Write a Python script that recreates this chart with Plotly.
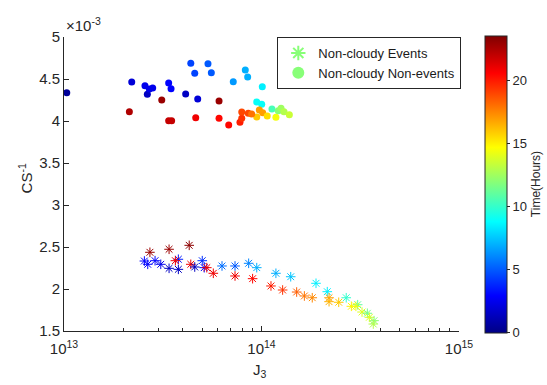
import plotly.graph_objects as go

# Non-cloudy Non-events (circles): log10(J3), CS^-1 (x1e-3), hour
nonevent_logJ = [13.014, 13.343, 13.410, 13.422, 13.432, 13.449, 13.530, 13.542, 13.495, 13.331,
                 13.530, 13.545, 13.616, 13.642, 13.729, 13.662, 13.746, 13.677, 13.667, 13.785,
                 13.785, 13.834, 13.891, 13.900, 13.857, 13.918, 13.930, 14.004, 13.900, 13.933,
                 13.976, 14.001, 13.989, 13.976, 14.006, 14.029, 14.053, 14.073, 14.085, 14.099,
                 14.114, 14.141, 13.950]
nonevent_cs = [4.337, 4.464, 4.420, 4.318, 4.381, 4.393, 4.452, 4.385, 4.250, 4.111,
               4.004, 4.004, 4.321, 4.687, 4.682, 4.568, 4.575, 4.262, 4.039, 4.238,
               4.032, 3.952, 3.985, 4.032, 4.468, 4.607, 4.524, 4.408, 4.107, 4.092,
               4.226, 4.199, 4.131, 4.048, 4.099, 4.060, 4.143, 4.044, 4.123, 4.151,
               4.111, 4.075, 4.083]
nonevent_hour = [0.5, 2.0, 2.5, 1.5, 2.5, 2.5, 3.0, 3.0, 23.0, 22.5,
                 22.0, 22.0, 1.5, 4.5, 5.0, 4.5, 5.0, 2.0, 21.0, 23.0,
                 20.5, 20.5, 20.0, 19.5, 6.5, 7.0, 7.0, 8.5, 19.0, 19.0,
                 9.0, 9.0, 17.0, 16.0, 17.0, 15.5, 10.5, 14.5, 12.0, 12.5,
                 13.0, 13.5, 18.0]

# Non-cloudy Events (asterisks)
event_logJ = [13.435, 13.532, 13.634, 13.407, 13.424, 13.461, 13.490, 13.532, 13.579, 13.579,
              13.564, 13.642, 13.662, 13.700, 13.710, 13.723, 13.756, 13.800, 13.866, 13.866,
              13.935, 13.976, 13.955, 14.073, 14.048, 14.107, 14.148, 14.178, 14.217, 14.257,
              14.276, 14.333, 14.342, 14.342, 14.391, 14.429, 14.455, 14.487, 14.478, 14.509,
              14.536, 14.546, 14.570, 14.566]
event_cs = [2.437, 2.473, 2.520, 2.333, 2.294, 2.337, 2.294, 2.246, 2.234, 2.354,
            2.337, 2.294, 2.262, 2.337, 2.254, 2.254, 2.187, 2.274, 2.274, 2.155,
            2.306, 2.254, 2.123, 2.187, 2.036, 1.988, 2.146, 1.964, 1.917, 1.896,
            2.068, 1.968, 1.896, 1.849, 1.842, 1.896, 1.794, 1.813, 1.794, 1.726,
            1.711, 1.663, 1.623, 1.583]
event_hour = [23.0, 23.0, 23.3, 3.0, 3.0, 3.0, 2.5, 1.5, 1.5, 3.5,
              21.0, 21.0, 1.5, 4.0, 3.0, 21.0, 21.0, 5.5, 5.0, 21.0,
              6.0, 7.0, 20.5, 7.0, 20.0, 19.5, 7.5, 18.5, 18.0, 17.5,
              8.5, 8.5, 17.0, 16.5, 16.0, 10.0, 15.0, 11.0, 14.5, 14.0,
              11.5, 14.0, 12.0, 13.0]

x_tick_vals = [1e13, 1e14, 1e15]
x_tick_text = ["10<sup>13</sup>", "10<sup>14</sup>", "10<sup>15</sup>"]
cbar_ticks = [0, 5, 10, 15, 20]
hour_min, hour_max = 0, 23.6

jet = [[0.0, "rgb(0,0,132)"], [0.125, "rgb(0,0,255)"], [0.375, "rgb(0,255,255)"],
       [0.625, "rgb(255,255,0)"], [0.875, "rgb(255,0,0)"], [1.0, "rgb(128,0,0)"]]

axis_col = "#262626"
font_fam = "Liberation Sans, Arial, sans-serif"

fig = go.Figure()

fig.add_trace(go.Scatter(
    x=[10 ** v for v in event_logJ], y=event_cs, mode="markers", showlegend=False,
    marker=dict(symbol="asterisk-open", size=8, color=event_hour, colorscale=jet,
                cmin=hour_min, cmax=hour_max, line=dict(width=1), showscale=False),
))
fig.add_trace(go.Scatter(
    x=[10 ** v for v in nonevent_logJ], y=nonevent_cs, mode="markers", showlegend=False,
    marker=dict(symbol="circle", size=7, color=nonevent_hour, colorscale=jet,
                cmin=hour_min, cmax=hour_max, line=dict(width=0), showscale=True,
                colorbar=dict(x=1.066, xanchor="left", xpad=0, y=0.5, yanchor="middle",
                              len=1.01, lenmode="fraction", thickness=22, ypad=0,
                              outlinecolor=axis_col, outlinewidth=1,
                              tickvals=cbar_ticks, ticks="outside", ticklen=3,
                              tickcolor=axis_col,
                              tickfont=dict(size=13, color=axis_col, family=font_fam),
                              title=dict(text="Time(Hours)", side="right",
                                         font=dict(size=12, color=axis_col, family=font_fam)))),
))
# legend entries
fig.add_trace(go.Scatter(x=[None], y=[None], mode="markers", name="Non-cloudy Events",
                         marker=dict(symbol="asterisk-open", size=6, color="#88ff78",
                                     line=dict(width=1))))
fig.add_trace(go.Scatter(x=[None], y=[None], mode="markers", name="Non-cloudy Non-events",
                         marker=dict(symbol="circle", size=6, color="#88ff78")))

fig.update_layout(
    width=547, height=385,
    margin=dict(l=64, r=88, t=37, b=54, autoexpand=False),
    paper_bgcolor="white", plot_bgcolor="white",
    font=dict(family=font_fam, color=axis_col, size=13),
    showlegend=True,
    legend=dict(x=0.54, y=1.0, xanchor="left", yanchor="top", bgcolor="white",
                bordercolor=axis_col, borderwidth=1, font=dict(size=13, color="#1a1a1a"),
                itemsizing="constant", tracegroupgap=0),
    xaxis=dict(type="log", range=[13, 15], tickvals=x_tick_vals, ticktext=x_tick_text,
               ticks="inside", ticklen=5, tickcolor=axis_col, showline=True,
               linecolor=axis_col, linewidth=1, showgrid=False, zeroline=False,
               tickfont=dict(size=15, color=axis_col), ticklabelstandoff=4,
               minor=dict(tickmode="array",
                          tickvals=[m * 10 ** e for e in (13, 14) for m in range(2, 10)],
                          ticks="inside", ticklen=3, tickcolor=axis_col, showgrid=False)),
    yaxis=dict(range=[1.5, 5], dtick=0.5, tick0=1.5, ticks="inside", ticklen=5,
               tickcolor=axis_col, showline=True, linecolor=axis_col, linewidth=1,
               showgrid=False, zeroline=False, tickfont=dict(size=15, color=axis_col)),
    annotations=[
        dict(text="CS<sup>-1</sup>", xref="paper", yref="paper", x=-0.098, y=0.52,
             xanchor="center", yanchor="middle", textangle=-90, showarrow=False,
             font=dict(size=15, color=axis_col)),
        dict(text="J<sub>3</sub>", xref="paper", yref="paper", x=0.495, y=-0.135,
             xanchor="center", yanchor="middle", showarrow=False,
             font=dict(size=15, color=axis_col)),
        dict(text="×10<sup>-3</sup>", xref="paper", yref="paper", x=0.0, y=1.0,
             xanchor="left", yanchor="bottom", yshift=1, showarrow=False,
             font=dict(size=15, color=axis_col)),
    ],
)

fig.write_html("out.html", config={"displayModeBar": False},
               post_script="document.body.style.margin='0';")
